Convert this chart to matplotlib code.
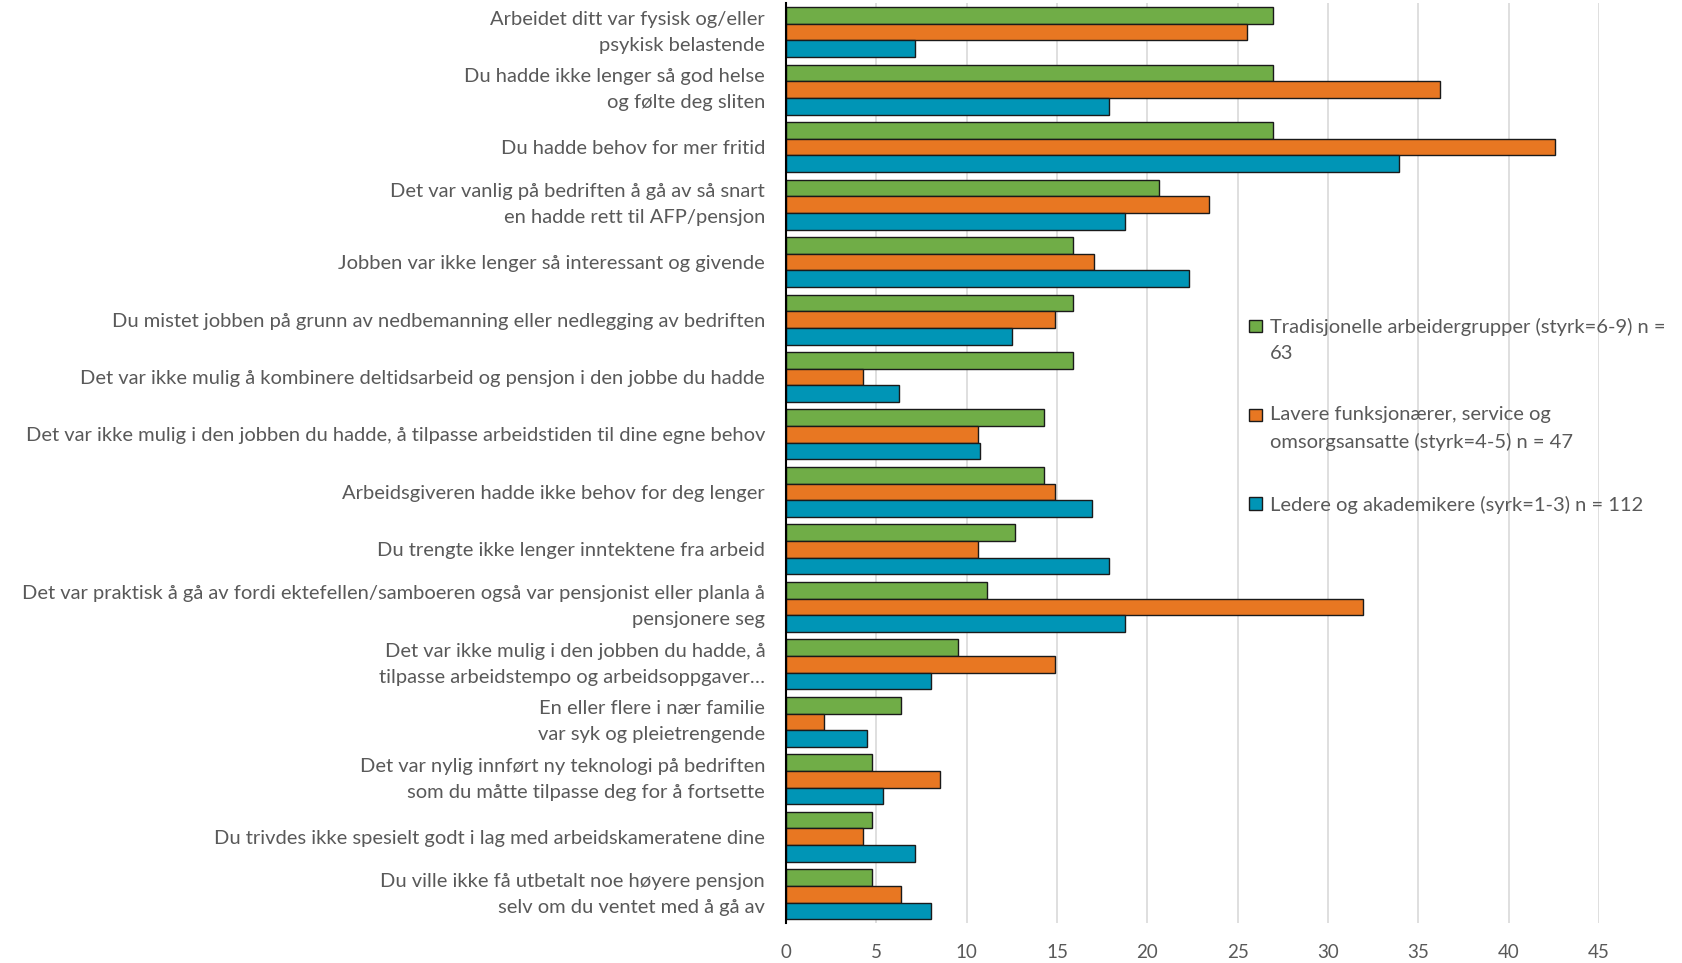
import matplotlib
matplotlib.use("Agg")
import matplotlib.pyplot as plt
from matplotlib.patches import Rectangle
from matplotlib.legend_handler import HandlerPatch
import numpy as np

plt.rcParams['font.family'] = ['Lato', 'DejaVu Sans']

categories = [
    "Arbeidet ditt var fysisk og/eller\npsykisk belastende",
    "Du hadde ikke lenger så god helse\nog følte deg sliten",
    "Du hadde behov for mer fritid",
    "Det var vanlig på bedriften å gå av så snart\nen hadde rett til AFP/pensjon",
    "Jobben var ikke lenger så interessant og givende",
    "Du mistet jobben på grunn av nedbemanning eller nedlegging av bedriften",
    "Det var ikke mulig å kombinere deltidsarbeid og pensjon i den jobbe du hadde",
    "Det var ikke mulig i den jobben du hadde, å tilpasse arbeidstiden til dine egne behov",
    "Arbeidsgiveren hadde ikke behov for deg lenger",
    "Du trengte ikke lenger inntektene fra arbeid",
    "Det var praktisk å gå av fordi ektefellen/samboeren også var pensjonist eller planla å\npensjonere seg",
    "Det var ikke mulig i den jobben du hadde, å\ntilpasse arbeidstempo og arbeidsoppgaver…",
    "En eller flere i nær familie\nvar syk og pleietrengende",
    "Det var nylig innført ny teknologi på bedriften\nsom du måtte tilpasse deg for å fortsette",
    "Du trivdes ikke spesielt godt i lag med arbeidskameratene dine",
    "Du ville ikke få utbetalt noe høyere pensjon\nselv om du ventet med å gå av",
]

series_names = [
    "Tradisjonelle arbeidergrupper (styrk=6-9) n =\n63",
    "Lavere funksjonærer, service og\nomsorgsansatte (styrk=4-5) n = 47",
    "Ledere og akademikere (syrk=1-3) n = 112",
]

tradisjonelle = [26.98, 26.98, 26.98, 20.63, 15.87, 15.87, 15.87, 14.29,
                 14.29, 12.70, 11.11, 9.52, 6.35, 4.76, 4.76, 4.76]
lavere = [25.53, 36.17, 42.55, 23.40, 17.02, 14.89, 4.26, 10.64,
          14.89, 10.64, 31.91, 14.89, 2.13, 8.51, 4.26, 6.38]
ledere = [7.14, 17.86, 33.93, 18.75, 22.32, 12.50, 6.25, 10.71,
          16.96, 17.86, 18.75, 8.04, 4.46, 5.36, 7.14, 8.04]

xticks = [0, 5, 10, 15, 20, 25, 30, 35, 40, 45]

colors = ["#70AD47", "#E87722", "#0095B6"]
text_color = "#595959"
LS = 1.65
FS = 14.5

fig = plt.figure(figsize=(16.82, 9.63), dpi=100)
ax = fig.add_axes([0.4673, 0.0415, 0.4834, 0.955])

n = len(categories)
y = np.arange(n)
h = 0.29
containers = []
for i, (vals, c, lab) in enumerate(zip([tradisjonelle, lavere, ledere], colors, series_names)):
    bc = ax.barh(y + (i - 1) * h, vals, height=h, color=c, edgecolor="#1a1a1a",
                 linewidth=1.0, label=lab, zorder=3)
    containers.append(bc)

ax.set_ylim(n - 0.5, -0.5)
ax.set_xlim(0, 45)
ax.set_xticks(xticks)
ax.set_xticklabels([str(t) for t in xticks])
ax.set_yticks(y)
ax.set_yticklabels(categories, ha="right", ma="right", linespacing=LS)
for lbl, txt in zip(ax.get_yticklabels(), categories):
    if "\n" in txt:
        lbl.set_va("center")
ax.tick_params(axis="y", length=0, pad=15, labelsize=FS, labelcolor=text_color)
ax.tick_params(axis="x", length=0, pad=15, labelsize=13.5, labelcolor=text_color)
ax.grid(axis="x", color="#D9D9D9", linewidth=1.2, zorder=0)
for s in ["top", "right", "bottom"]:
    ax.spines[s].set_visible(False)
ax.spines["left"].set_color("#000000")
ax.spines["left"].set_linewidth(1.5)
ax.spines["left"].set_zorder(4)


def make_handler(nlines):
    def pf(legend, orig_handle, xdescent, ydescent, width, height, fontsize):
        shift = (nlines - 1) * 0.5 * LS * 0.83 * fontsize
        return Rectangle((-xdescent, -ydescent + shift), width, height)
    return HandlerPatch(patch_func=pf)


handles = [bc.patches[0] for bc in containers]
hmap = {hd: make_handler(lab.count("\n") + 1) for hd, lab in zip(handles, series_names)}

leg = ax.legend(handles, series_names, loc="upper left", bbox_to_anchor=(0.57, 0.658),
                frameon=False, fontsize=FS, labelcolor=text_color, handlelength=0.6,
                handleheight=0.6, handletextpad=0.4, labelspacing=2.2,
                borderaxespad=0, borderpad=0, handler_map=hmap)
for t in leg.get_texts():
    t.set_linespacing(LS)

fig.savefig("out.png", dpi=100)
